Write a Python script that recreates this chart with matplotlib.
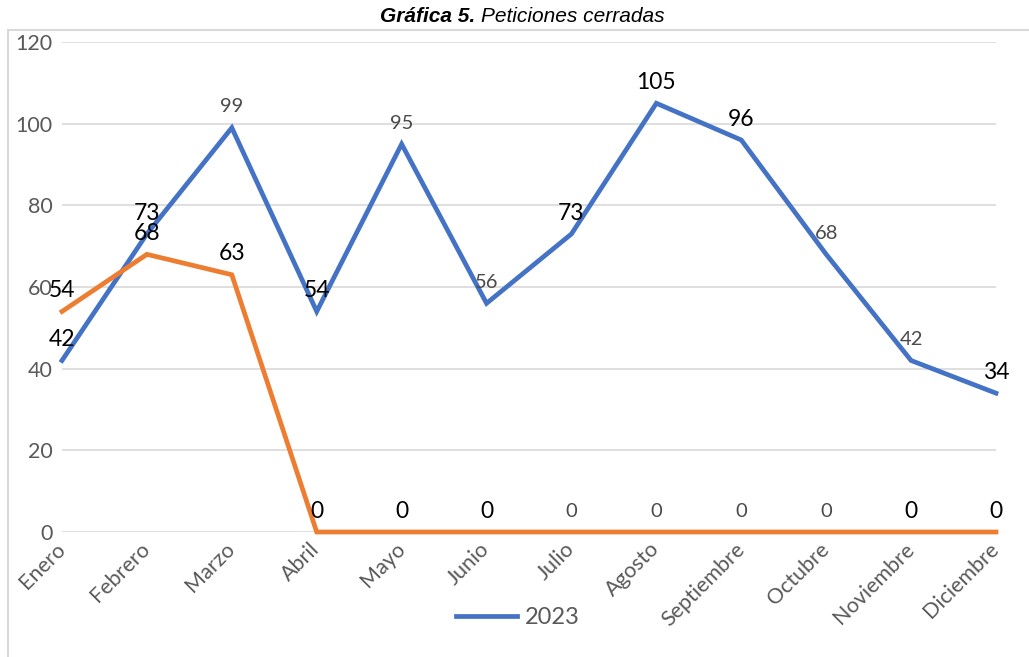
import matplotlib.pyplot as plt
from matplotlib.lines import Line2D

# Data
months = ["Enero", "Febrero", "Marzo", "Abril", "Mayo", "Junio", "Julio",
          "Agosto", "Septiembre", "Octubre", "Noviembre", "Diciembre"]
blue_values = [42, 73, 99, 54, 95, 56, 73, 105, 96, 68, 42, 34]
orange_values = [54, 68, 63, 0, 0, 0, 0, 0, 0, 0, 0, 0]
# which data labels are drawn large/black (True) or small/gray (False)
blue_big = [True, True, False, True, False, False, True, True, True, False, False, True]
orange_big = [True, True, True, True, True, True, False, False, False, False, True, True]
legend_label = "2023"

BLUE = "#4472C4"
ORANGE = "#ED7D31"
GRID = "#D9D9D9"
TEXT = "#595959"

plt.rcParams['font.family'] = ['Lato', 'DejaVu Sans']

fig = plt.figure(figsize=(10.29, 6.57), dpi=100)
ax = fig.add_axes([62 / 1029, 1 - 532 / 657, 934 / 1029, 490 / 657])

x = list(range(len(months)))
ax.plot(x, blue_values, color=BLUE, lw=3.4, solid_joinstyle='miter', zorder=3, clip_on=False)
ax.plot(x, orange_values, color=ORANGE, lw=3.4, solid_joinstyle='miter', zorder=3, clip_on=False)

# Data labels above each point
for values, bigs in [(blue_values, blue_big), (orange_values, orange_big)]:
    for i, (v, big) in enumerate(zip(values, bigs)):
        ax.annotate(str(v), (i, v), xytext=(0, 15), textcoords='offset points',
                    ha='center', va='center',
                    fontsize=16.5 if big else 14.5,
                    color='black' if big else '#4a4a4a', zorder=4)

ax.set_xlim(0, 11)
ax.set_ylim(0, 120)
ax.set_yticks(range(0, 121, 20))
ax.yaxis.grid(True, color=GRID, lw=1.2)
ax.set_axisbelow(True)
for s in ax.spines.values():
    s.set_visible(False)
ax.tick_params(axis='both', length=0, colors=TEXT, labelsize=15.5)
ax.tick_params(axis='y', pad=7)
ax.set_xticks(x)
ax.set_xticklabels(months, rotation=45, ha='right', va='center', rotation_mode='anchor')
ax.tick_params(axis='x', pad=10)

# Legend: only the blue series
fig.legend([Line2D([], [], color=BLUE, lw=3.4)], [legend_label], loc='center',
           bbox_to_anchor=(518 / 1029, 1 - 618 / 657), frameon=False,
           fontsize=17, handlelength=2.55, handletextpad=0.35, labelcolor=TEXT)

# Title (bold italic part + italic part)
fig.text(475 / 1029, 1 - 17 / 657, "Gráfica 5.", ha='right', va='center',
         family='Liberation Sans', style='italic', weight='bold', fontsize=15)
fig.text(481 / 1029, 1 - 17 / 657, "Peticiones cerradas", ha='left', va='center',
         family='Liberation Sans', style='italic', fontsize=15)

# Chart area border (top and left edges visible)
fig.add_artist(Line2D([8 / 1029, 1], [1 - 30 / 657, 1 - 30 / 657], color=GRID, lw=1.5))
fig.add_artist(Line2D([8 / 1029, 8 / 1029], [0, 1 - 30 / 657], color=GRID, lw=1.5))

fig.savefig("out.png", dpi=100)
